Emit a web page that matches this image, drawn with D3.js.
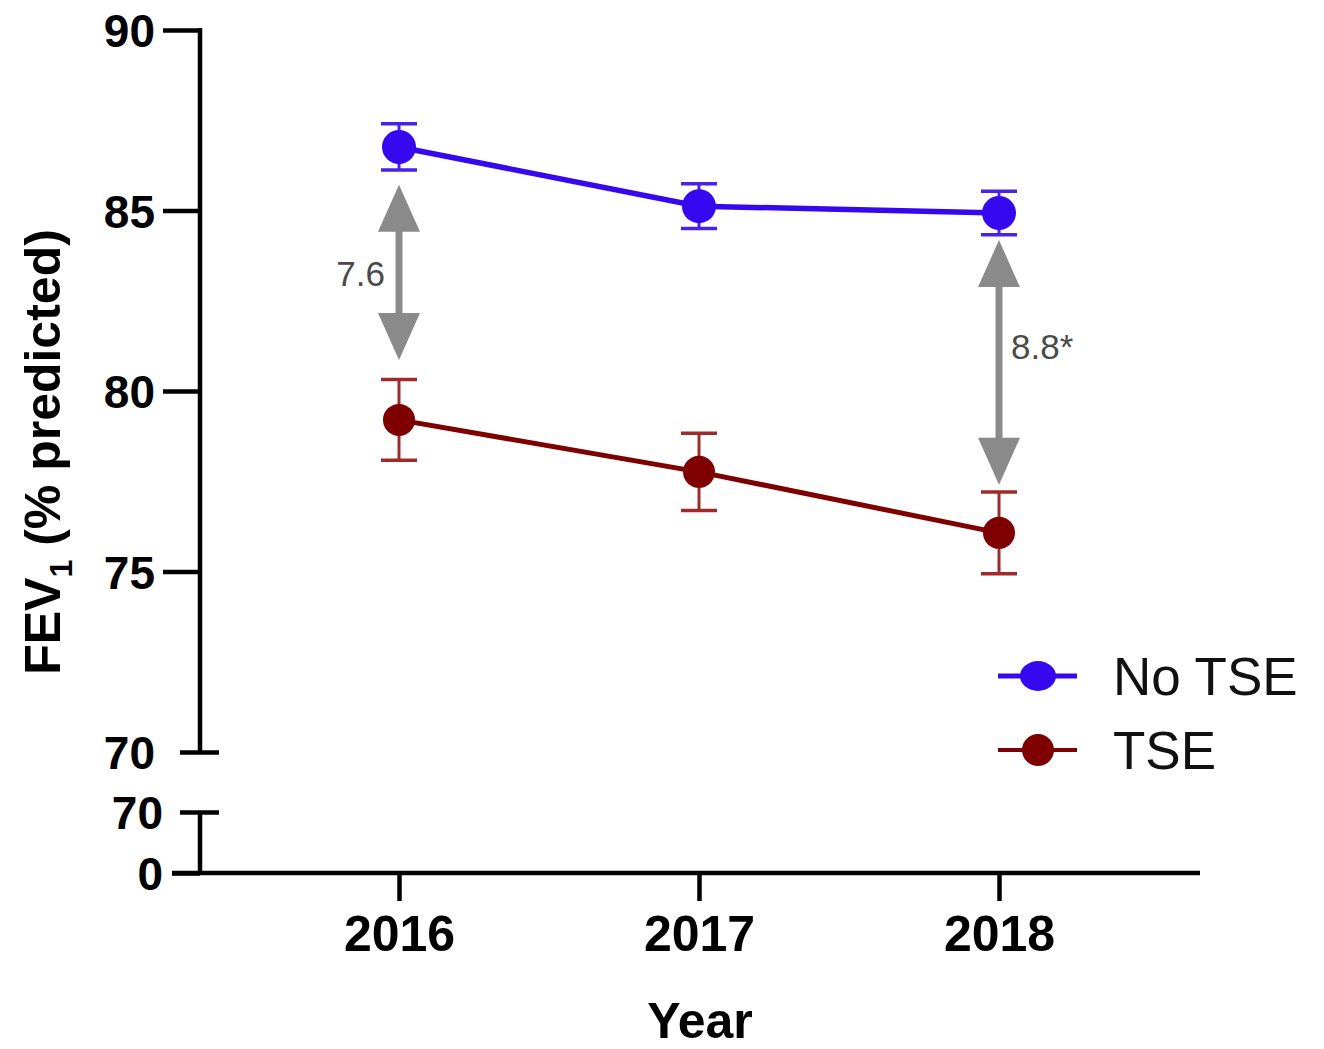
<!DOCTYPE html>
<html>
<head>
<meta charset="utf-8">
<script src="https://cdn.jsdelivr.net/npm/d3@7"></script>
<style>
  html, body { margin: 0; padding: 0; background: #fff; }
  svg { display: block; }
  text { font-family: "Liberation Sans", Arial, Helvetica, sans-serif; }
</style>
</head>
<body>
<svg id="chart" width="1324" height="1049"></svg>
<script>
// ---- data ----
const years = [2016, 2017, 2018];
const seriesNames = ["No TSE", "TSE"];
const noTseMean = [86.76, 85.12, 84.93];
const noTseErr  = [0.64, 0.62, 0.60];
const tseMean   = [79.20, 77.76, 76.07];
const tseErr    = [1.12, 1.07, 1.13];
const yTicksUpper = [70, 75, 80, 85, 90];
const yTicksLower = [0, 70];
const arrowYears  = [2016, 2018];
const arrowTop    = [85.71, 84.18];
const arrowBottom = [80.86, 77.40];
const arrowLabels = ["7.6", "8.8*"];

// ---- layout ----
const svg = d3.select("#chart");
const axisX = 200;
const font = '"Liberation Sans", Arial, Helvetica, sans-serif';
const colors = { "No TSE": "#3508f0", "TSE": "#7e0000" };
const errColors = { "No TSE": "#4a20f0", "TSE": "#a02a2a" };

const x = d3.scaleLinear().domain([2016, 2018]).range([399, 999]);
const yU = d3.scaleLinear().domain([70, 90]).range([752, 30]);
const yL = d3.scaleLinear().domain([0, 70]).range([873, 812]);

// upper y axis
const gU = svg.append("g").attr("transform", `translate(${axisX},0)`)
  .call(d3.axisLeft(yU).tickValues(yTicksUpper).tickSize(37).tickSizeOuter(0).tickPadding(8));
gU.select(".domain").remove();
gU.append("line").attr("x1", 0).attr("x2", 0).attr("y1", yU(90) - 2).attr("y2", yU(70))
  .attr("stroke", "#000").attr("stroke-width", 4.5);
gU.selectAll(".tick line").attr("stroke", "#000").attr("stroke-width", 4.5);
gU.selectAll(".tick").filter(d => d === 70).select("line").attr("x1", 19).attr("x2", -20);
gU.selectAll(".tick text").attr("x", -45).attr("font-size", 46).attr("font-weight", "bold")
  .attr("font-family", font).attr("fill", "#000").attr("dy", "0.36em");

// lower y axis segment
const gL = svg.append("g").attr("transform", `translate(${axisX},0)`)
  .call(d3.axisLeft(yL).tickValues(yTicksLower).tickSize(28).tickSizeOuter(0).tickPadding(8));
gL.select(".domain").remove();
gL.append("line").attr("x1", 0).attr("x2", 0).attr("y1", yL(70)).attr("y2", yL(0))
  .attr("stroke", "#000").attr("stroke-width", 4.5);
gL.selectAll(".tick line").attr("stroke", "#000").attr("stroke-width", 4.5);
gL.selectAll(".tick").filter(d => d === 70).select("line").attr("x1", 19).attr("x2", -20);
gL.selectAll(".tick text").attr("x", -37).attr("font-size", 46).attr("font-weight", "bold")
  .attr("font-family", font).attr("fill", "#000").attr("dy", "0.36em");

// x axis
const gX = svg.append("g").attr("transform", `translate(0,${yL(0)})`)
  .call(d3.axisBottom(x).tickValues(years).tickFormat(d3.format("d")).tickSize(28).tickSizeOuter(0).tickPadding(14));
gX.select(".domain").remove();
gX.append("line").attr("x1", 172).attr("x2", 1200).attr("y1", 0).attr("y2", 0)
  .attr("stroke", "#000").attr("stroke-width", 4.5);
gX.selectAll(".tick line").attr("stroke", "#000").attr("stroke-width", 4.5);
gX.selectAll(".tick text").attr("font-size", 50).attr("font-weight", "bold")
  .attr("font-family", font).attr("fill", "#000");

// axis titles
svg.append("text").attr("x", 700).attr("y", 1038).attr("text-anchor", "middle")
  .attr("font-size", 50).attr("font-weight", "bold").text("Year");

const yt = svg.append("text").attr("transform", "translate(60,452) rotate(-90)")
  .attr("text-anchor", "middle").attr("font-size", 50).attr("font-weight", "bold");
yt.append("tspan").text("FEV");
yt.append("tspan").attr("font-size", 32).attr("dy", 12).text("1");
yt.append("tspan").attr("dy", -12).text(" (% predicted)");

// arrows
const arrowColor = "#8a8a8a";
arrowYears.forEach((yr, i) => {
  const cx = x(yr), t = yU(arrowTop[i]), b = yU(arrowBottom[i]);
  const hh = 47, hw = 21;
  svg.append("line").attr("x1", cx).attr("x2", cx).attr("y1", t + hh - 2).attr("y2", b - hh + 2)
    .attr("stroke", arrowColor).attr("stroke-width", 7);
  svg.append("path").attr("d", `M${cx},${t} L${cx - hw},${t + hh} L${cx + hw},${t + hh} Z`).attr("fill", arrowColor);
  svg.append("path").attr("d", `M${cx},${b} L${cx - hw},${b - hh} L${cx + hw},${b - hh} Z`).attr("fill", arrowColor);
});
svg.append("text").attr("x", x(2016) - 14).attr("y", 286).attr("text-anchor", "end")
  .attr("font-size", 35).attr("fill", "#4a4a4a").text(arrowLabels[0]);
svg.append("text").attr("x", x(2018) + 12).attr("y", 359).attr("text-anchor", "start")
  .attr("font-size", 35).attr("fill", "#4a4a4a").text(arrowLabels[1]);

// series
const series = [
  { name: "No TSE", mean: noTseMean, err: noTseErr, lw: 5.5, r: 17 },
  { name: "TSE", mean: tseMean, err: tseErr, lw: 5, r: 16 }
];
const line = d3.line().x((d, i) => x(years[i])).y(d => yU(d));
series.forEach(s => {
  const g = svg.append("g");
  // error bars
  s.mean.forEach((m, i) => {
    const cx = x(years[i]);
    const top = yU(m + s.err[i]), bot = yU(m - s.err[i]);
    g.append("line").attr("x1", cx).attr("x2", cx).attr("y1", top).attr("y2", bot)
      .attr("stroke", errColors[s.name]).attr("stroke-width", 3);
    [top, bot].forEach(yy => g.append("line").attr("x1", cx - 18).attr("x2", cx + 18)
      .attr("y1", yy).attr("y2", yy).attr("stroke", errColors[s.name]).attr("stroke-width", 3.5));
  });
  g.append("path").attr("d", line(s.mean)).attr("fill", "none")
    .attr("stroke", colors[s.name]).attr("stroke-width", s.lw);
  g.selectAll("circle").data(s.mean).join("circle")
    .attr("cx", (d, i) => x(years[i])).attr("cy", d => yU(d)).attr("r", s.r)
    .attr("fill", colors[s.name]);
});

// legend
const legY = [676, 750];
series.forEach((s, i) => {
  const gy = legY[i];
  svg.append("line").attr("x1", 998).attr("x2", 1077).attr("y1", gy).attr("y2", gy)
    .attr("stroke", colors[s.name]).attr("stroke-width", i === 0 ? 5 : 4);
  svg.append("ellipse").attr("cx", 1038).attr("cy", gy).attr("rx", i === 0 ? 18 : 16).attr("ry", i === 0 ? 15 : 16)
    .attr("fill", colors[s.name]);
  svg.append("text").attr("x", 1113).attr("y", gy + 19).attr("font-size", 53).attr("fill", "#111")
    .text(seriesNames[i]);
});
</script>
</body>
</html>
